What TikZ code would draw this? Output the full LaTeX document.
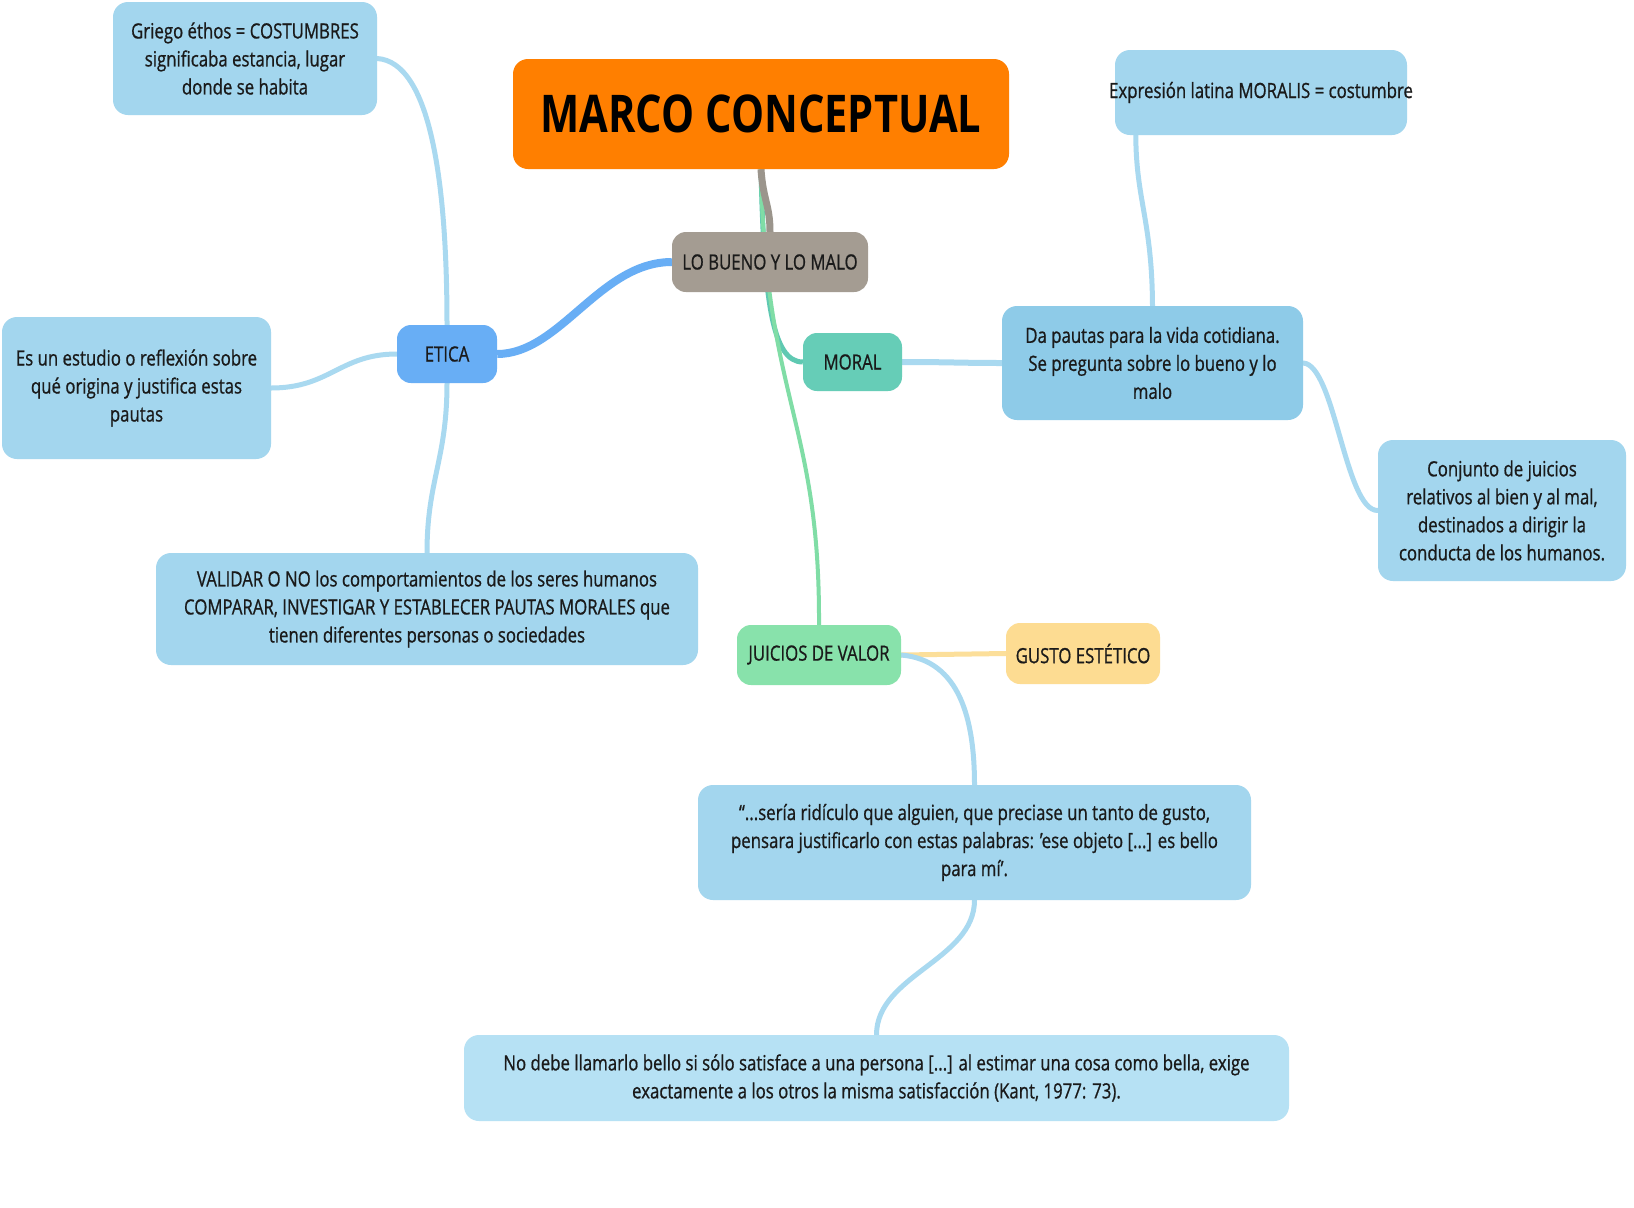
\documentclass[tikz,border=0pt]{standalone}
\usepackage{fontspec}
\setmainfont{Open Sans}[FakeStretch=0.8, UprightFeatures={FakeBold=0.8}, BoldFeatures={FakeBold=0}]
\usetikzlibrary{backgrounds}
\definecolor{txt}{HTML}{1A1A1A}
\definecolor{orangeR}{HTML}{FF7F00}
\definecolor{taupe}{HTML}{A49C92}
\definecolor{eticaB}{HTML}{68AEF5}
\definecolor{moralT}{HTML}{66CDB7}
\definecolor{juicG}{HTML}{88E2AB}
\definecolor{gustoY}{HTML}{FDDC92}
\definecolor{lb}{HTML}{A3D6EE}
\definecolor{lbdark}{HTML}{8ECBE8}
\definecolor{lblight}{HTML}{B6E1F4}
\definecolor{linelb}{HTML}{A9D9F0}
\definecolor{linegray}{HTML}{9B958C}
\definecolor{lineteal}{HTML}{5FC9B2}
\definecolor{linegreen}{HTML}{80DDA6}
\definecolor{lineyel}{HTML}{FCDF9A}
\begin{document}
\begin{tikzpicture}[x=1pt,y=-1pt,
  box/.style={rounded corners=15pt, inner sep=0pt, align=center,
    font=\fontsize{21}{28}\selectfont, text=txt},
  small/.style={box, rounded corners=14pt},
  conn/.style={line width=5pt, color=linelb, line cap=round}]
\useasboundingbox (0,0) rectangle (1634,1208);

\node[box, fill=orangeR, minimum width=496pt, minimum height=110pt,
  font=\fontsize{52}{60}\selectfont\bfseries, text=black] (marco) at (761,114) {MARCO CONCEPTUAL};
\node[small, fill=taupe, minimum width=196pt, minimum height=60pt] (bueno) at (770,262) {LO BUENO Y LO MALO};
\node[small, fill=eticaB, minimum width=100pt, minimum height=58pt] (etica) at (447,354) {ETICA};
\node[small, fill=moralT, minimum width=99pt, minimum height=58pt] (moral) at (852.5,362) {MORAL};
\node[small, fill=juicG, minimum width=164pt, minimum height=60pt] (juicios) at (819,655) {JUICIOS DE VALOR};
\node[small, fill=gustoY, minimum width=154pt, minimum height=61pt] (gusto) at (1083,653.5) {GUSTO ESTÉTICO};

\node[box, fill=lb, minimum width=264pt, minimum height=113pt] (griego) at (245,58.5)
  {Griego éthos = COSTUMBRES\\significaba estancia, lugar\\donde se habita};
\node[box, fill=lb, minimum width=269pt, minimum height=142pt] (estudio) at (136.5,388)
  {Es un estudio o reflexión sobre\\qué origina y justifica estas\\pautas};
\node[box, fill=lb, minimum width=542pt, minimum height=112pt] (validar) at (427,609)
  {VALIDAR O NO los comportamientos de los seres humanos\\COMPARAR, INVESTIGAR Y ESTABLECER PAUTAS MORALES que\\tienen diferentes personas o sociedades};
\node[box, fill=lb, minimum width=292pt, minimum height=85pt] (expr) at (1261,92.5)
  {\makebox[0pt]{Expresión latina MORALIS = costumbre}};
\node[box, fill=lbdark, minimum width=301pt, minimum height=114pt] (pautas) at (1152.5,363)
  {Da pautas para la vida cotidiana.\\Se pregunta sobre lo bueno y lo\\malo};
\node[box, fill=lb, minimum width=248pt, minimum height=141pt] (conjunto) at (1502,510.5)
  {Conjunto de juicios\\relativos al bien y al mal,\\destinados a dirigir la\\conducta de los humanos.};
\node[box, fill=lb, minimum width=553pt, minimum height=115pt] (seria) at (974.5,842.5)
  {“...sería ridículo que alguien, que preciase un tanto de gusto,\\pensara justificarlo con estas palabras: 'ese objeto [...] es bello\\para mí'.};
\node[box, fill=lblight, minimum width=825pt, minimum height=86pt] (nodebe) at (876.5,1078)
  {No debe llamarlo bello si sólo satisface a una persona [...] al estimar una cosa como bella, exige\\exactamente a los otros la misma satisfacción (Kant, 1977: 73).};

\begin{scope}[on background layer]
\fill[white] (0,0) rectangle (1634,1208);
\draw[line width=5pt, color=lineteal] (marco.south) .. controls (764,300) and (772,362) .. (moral.west);
\draw[line width=4pt, color=linegreen] (marco.south) .. controls (765,400) and (820,420) .. (juicios.north);
\draw[line width=7pt, color=linegray] (marco.south) .. controls (763,200) and (770,205) .. (bueno.north);
\draw[line width=8pt, color=eticaB] (etica.east) .. controls (560,354) and (600,262) .. (bueno.west);
\draw[conn] (griego.east) .. controls (430,62) and (447,180) .. (etica.north);
\draw[conn] (estudio.east) .. controls (330,388) and (340,354) .. (etica.west);
\draw[conn] (etica.south) .. controls (447,460) and (427,480) .. (validar.north);
\draw[conn, line width=6pt] (moral.east) .. controls (950,362) and (960,363) .. (pautas.west);
\draw[conn] (pautas.north) .. controls (1152,220) and (1136,200) .. ([xshift=21pt]expr.south west);
\draw[conn] (pautas.east) .. controls (1335,365) and (1345,511) .. (conjunto.west);
\draw[line width=5pt, color=lineyel] (juicios.east) -- (gusto.west);
\draw[conn] (juicios.east) .. controls (960,660) and (974.5,720) .. (seria.north);
\draw[conn] (seria.south) .. controls (974.5,960) and (876.5,975) .. (nodebe.north);
\end{scope}
\end{tikzpicture}
\end{document}
